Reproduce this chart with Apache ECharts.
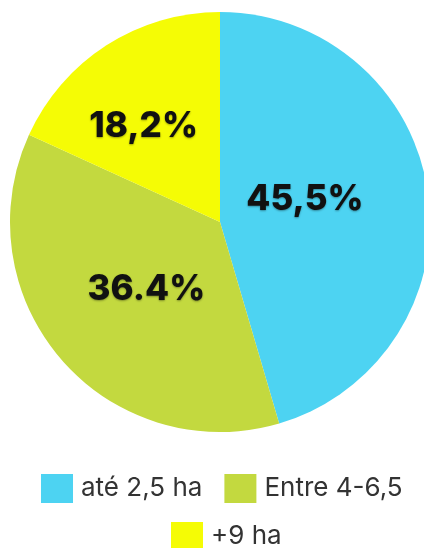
<!DOCTYPE html>
<html>
<head>
<meta charset="utf-8">
<script src="https://cdn.jsdelivr.net/npm/echarts@6/dist/echarts.min.js"></script>
<style>html,body{margin:0;padding:0;background:#fff;}#c{width:424px;height:548px;}</style>
</head>
<body>
<div id="c"></div>
<script>
const categories = ['até 2,5 ha', 'Entre 4-6,5', '+9 ha'];
const values = [45.5, 36.4, 18.2];
const labelTexts = ['45,5%', '36.4%', '18,2%'];
const colors = ['#4dd3f2', '#c3d93f', '#f5fc05'];
const labelOffsets = [[-22, -7], [8, -3], [-18, -5]];

const chart = echarts.init(document.getElementById('c'));
const legendText = { fontFamily: 'Inter', fontSize: 26, color: '#333', padding: [0, 0, 0, 3] };
chart.setOption({
  animation: false,
  backgroundColor: '#ffffff',
  legend: [
    {
      data: categories.slice(0, 2),
      left: 36, top: 469,
      itemWidth: 32, itemHeight: 29, itemGap: 22,
      icon: 'rect',
      textStyle: legendText
    },
    {
      data: categories.slice(2),
      left: 166, top: 517,
      itemWidth: 32, itemHeight: 29,
      icon: 'rect',
      textStyle: legendText
    }
  ],
  series: [{
    type: 'pie',
    center: [220, 222],
    radius: [0, 210],
    startAngle: 90,
    clockwise: true,
    silent: true,
    label: {
      show: true,
      position: 'inside',
      fontFamily: 'Inter',
      fontWeight: 800,
      fontSize: 35,
      color: '#111',
      textShadowColor: 'rgba(0,0,0,0.35)',
      textShadowBlur: 2,
      textShadowOffsetY: 1
    },
    labelLine: { show: false },
    itemStyle: { borderWidth: 0 },
    data: categories.map((c, i) => ({
      name: c,
      value: values[i],
      itemStyle: { color: colors[i] },
      label: { formatter: labelTexts[i], offset: labelOffsets[i] }
    }))
  }]
});
</script>
</body>
</html>
